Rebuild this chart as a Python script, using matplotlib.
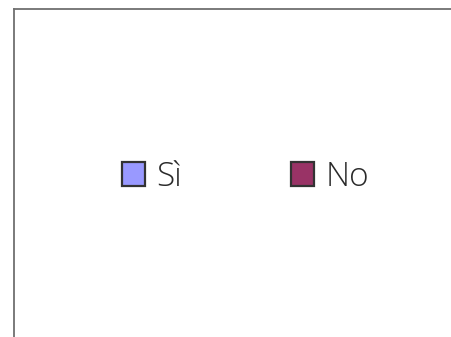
import matplotlib.pyplot as plt
import matplotlib.patches as mpatches

categories = ["Sì", "No"]
colors = ["#9999ff", "#993366"]

fig = plt.figure(figsize=(4.52, 3.37), dpi=100)
ax = fig.add_axes([14 / 452, 0, 1 - 14 / 452, 1 - 9 / 337])
ax.set_xticks([])
ax.set_yticks([])
for side in ["right", "bottom"]:
    ax.spines[side].set_visible(False)
for side in ["top", "left"]:
    ax.spines[side].set_color("#707070")
    ax.spines[side].set_linewidth(1.3)

handles = [mpatches.Patch(facecolor=c, edgecolor="#333333", linewidth=1.6, label=l)
           for l, c in zip(categories, colors)]
leg = fig.legend(handles=handles, loc="center", bbox_to_anchor=(0.543, 0.475),
                 ncol=2, frameon=False, borderpad=0, handlelength=0.69,
                 handleheight=0.69, handletextpad=0.33, columnspacing=3.3,
                 prop={"family": "Open Sans", "size": 24, "weight": "light"})
for t in leg.get_texts():
    t.set_color("#2a2a2a")

fig.savefig("out.png", dpi=100)
